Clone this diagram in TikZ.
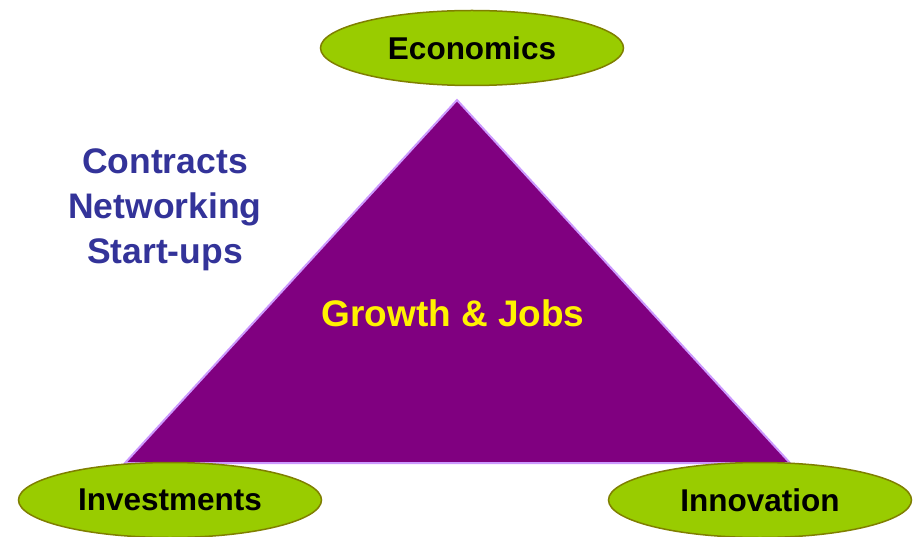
\documentclass[tikz,border=0pt]{standalone}
\usepackage{fontspec}
\setmainfont{Liberation Sans}
\usetikzlibrary{shapes.geometric}
\definecolor{leaf}{HTML}{99CC00}
\definecolor{leafedge}{HTML}{7F7F00}
\definecolor{plum}{HTML}{800080}
\definecolor{plumedge}{HTML}{CC99FF}
\definecolor{navy}{HTML}{333399}

\begin{document}
\begin{tikzpicture}[x=1pt, y=-1pt, every node/.style={inner sep=0pt}, goal/.style={ellipse, draw=leafedge, line width=1.5pt, fill=leaf, minimum width=303pt, minimum height=75pt, font=\fontsize{31.5}{36}\selectfont\bfseries}]
			\useasboundingbox (0,0) rectangle (917,537);
			
			\coordinate (top) at (457,100);
			\coordinate (left) at (125,463);
			\coordinate (right) at (790,463);
			\path[fill=plum, draw=plumedge, line width=2pt, line join=miter] (top) -- (left) -- (right) -- cycle;
			
			\node[goal] (econ) at (472,48){Economics};
			\node[goal] (invest) at (170,500){\raisebox{-2pt}{Investments}};
			\node[goal] (innov) at (760,500){\raisebox{-2pt}{Innovation}};
			
			\node[text=yellow, font=\fontsize{37}{42}\selectfont\bfseries] (growth) at (453,313){Growth \& Jobs};
			\node[text=navy, align=center, font=\fontsize{35.5}{45}\selectfont\bfseries] (means) at (165,210){Contracts\\Networking\\Start-ups};
			\end{tikzpicture}
\end{document}
